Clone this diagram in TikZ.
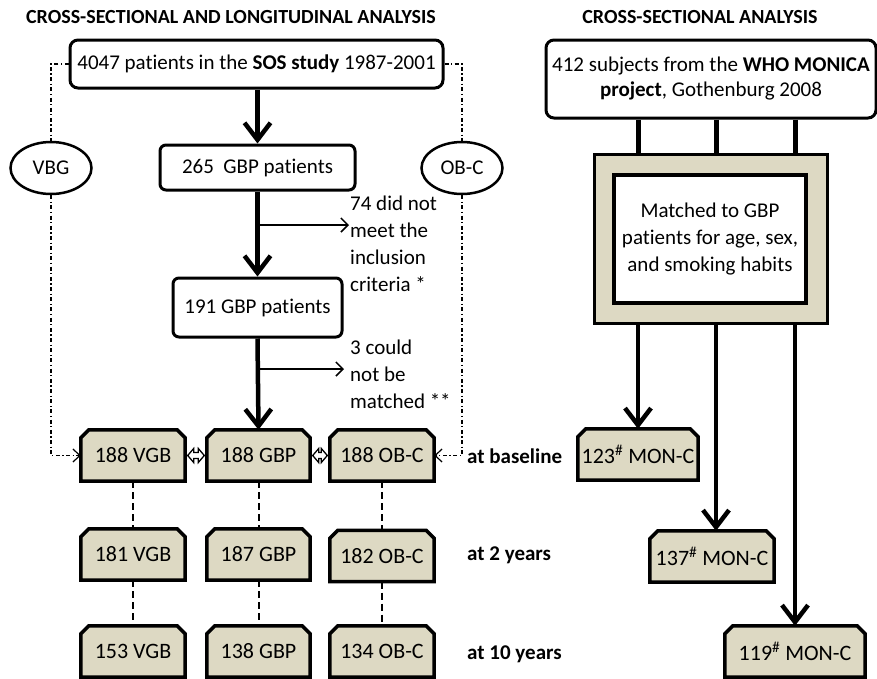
\documentclass[tikz,border=0pt]{standalone}
\usepackage{fontspec}
\setmainfont{Carlito}[Ligatures=NoCommon]
\usetikzlibrary{arrows.meta,calc,backgrounds,shapes.geometric}
\definecolor{beige}{RGB}{221,217,195}
\begin{document}
\begin{tikzpicture}[x=1pt,y=-1pt,
  font=\fontsize{21}{27}\selectfont,
  rbox/.style={draw, line width=3pt, rounded corners=8pt, fill=white, inner sep=0pt, align=center},
  oval/.style={draw, ellipse, line width=2.5pt, fill=white, inner sep=0pt, minimum width=81, minimum height=52},
  bigarrow/.style={line width=4.5pt, -{Straight Barb[length=17pt,width=26pt]}},
  thinarrow/.style={line width=1.5pt, -{Straight Barb[length=7pt,width=14pt]}},
  conn/.style={line width=5pt},
  dline/.style={line width=2pt, dash pattern=on 7pt off 4pt},
  ddot/.style={line width=1.2pt, black, dash pattern=on 4pt off 2.5pt on 1.2pt off 2.5pt},
  ddarrow/.style={ddot, -{Straight Barb[length=7pt,width=13pt]}},
  dbl/.style={line width=1.3pt, fill=white, line join=miter},
  lbl/.style={font=\fontsize{21}{27}\selectfont\bfseries, anchor=west, inner sep=0pt},
  ttl/.style={font=\fontsize{20}{27}\selectfont\bfseries, inner sep=0pt},
  note/.style={anchor=north west, align=left, inner sep=0pt}
]
\useasboundingbox (0,0) rectangle (877,678);

\newcommand\chbox[5]{%
  \node[inner sep=0pt, minimum width=#4, minimum height=51, font=\fontsize{22}{27}\selectfont] (#1) at (#2,#3) {#5};
  \begin{scope}[on background layer]
    \path[fill=beige, draw, line width=3.5pt, line join=miter]
      (#1.south west) -- ($(#1.north west)+(0,8)$) -- ($(#1.north west)+(8,0)$)
      -- ($(#1.north east)+(-8,0)$) -- ($(#1.north east)+(0,8)$) -- (#1.south east) -- cycle;
  \end{scope}}
\newcommand\dblarrow[2]{%
  \draw[dbl] let \p1=(#1.east), \p2=(#2.west) in
    (\x1+2.5pt,\y1) -- (\x1+8.5pt,\y1+7pt) -- (\x1+8.5pt,\y1+3pt) -- (\x2-8.5pt,\y1+3pt)
    -- (\x2-8.5pt,\y1+7pt) -- (\x2-2.5pt,\y1) -- (\x2-8.5pt,\y1-7pt) -- (\x2-8.5pt,\y1-3pt)
    -- (\x1+8.5pt,\y1-3pt) -- (\x1+8.5pt,\y1-7pt) -- cycle;}

% titles
\node[ttl] (t1) at (231,17) {CROSS-SECTIONAL AND LONGITUDINAL ANALYSIS};
\node[ttl] (t2) at (700,17) {CROSS-SECTIONAL ANALYSIS};

% left flow
\node[rbox, minimum width=373, minimum height=48] (sos) at (256.5,64) {4047 patients in the \textbf{SOS study} 1987-2001};
\node[rbox, rounded corners=6pt, minimum width=195, minimum height=45] (p265) at (257.5,167.5) {265\ \ GBP patients};
\node[rbox, rounded corners=6pt, minimum width=169, minimum height=59] (p191) at (257.5,307.5) {191 GBP patients};

\node[oval] (vbg) at (51,168) {VBG};
\node[oval] (obc) at (462,168) {OB-C};

\node[note] (n74) at (350,196) {74 did not\\meet the\\inclusion\\criteria *};
\node[note] (n3) at (350,340) {3 could\\not be\\matched **};

% beige boxes
\chbox{vgbA}{133}{455.5}{104}{188 VGB}
\chbox{gbpA}{258.5}{455.5}{103}{188 GBP}
\chbox{obcA}{382}{455.5}{104}{188 OB-C}
\chbox{vgbB}{133}{554.5}{104}{181 VGB}
\chbox{gbpB}{258.5}{554.5}{103}{187 GBP}
\chbox{obcB}{382}{556}{104}{182 OB-C}
\chbox{vgbC}{133}{651.5}{104}{153 VGB}
\chbox{gbpC}{258.5}{651.5}{103}{138 GBP}
\chbox{obcC}{382}{651.5}{104}{134 OB-C}

\node[lbl] (l1) at (467,456) {at baseline};
\node[lbl] (l2) at (467,555) {at 2 years};
\node[lbl] (l3) at (467,654) {at 10 years};

% main arrows
\draw[bigarrow] (sos.south -| p265.north) -- (p265.north);
\draw[bigarrow] (p265.south) -- (p191.north);
\draw[bigarrow] (p191.south) -- (gbpA.north);
\coordinate (b1) at (257.5,225);
\coordinate (b1e) at (349,225);
\draw[thinarrow] (b1) -- (b1e);
\coordinate (b2) at (257.5,369);
\coordinate (b2e) at (344,369);
\draw[thinarrow] (b2) -- (b2e);

% double arrows
\dblarrow{vgbA}{gbpA}
\dblarrow{gbpA}{obcA}

% dashed verticals
\draw[dline] (vgbA.south) -- (vgbB.north);
\draw[dline] (vgbB.south) -- (vgbC.north);
\draw[dline] (gbpA.south) -- (gbpB.north);
\draw[dline] (gbpB.south) -- (gbpC.north);
\draw[dline] (obcA.south) -- (obcB.north);
\draw[dline] (obcB.south) -- (obcC.north);

% dash-dot connectors
\draw[ddot] (sos.west) -| (vbg.north);
\draw[ddarrow] (vbg.south) |- (vgbA.west);
\draw[ddot] (sos.east) -| (obc.north);
\draw[ddarrow] (obc.south) |- (obcA.east);

% right flow
\node[rbox, minimum width=330, minimum height=78, font=\fontsize{21}{25}\selectfont] (who) at (711,79) {412 subjects from the \textbf{WHO MONICA}\\\textbf{project}, Gothenburg 2008};
\node[draw, line width=3pt, fill=beige, minimum width=233, minimum height=169, inner sep=0pt] (frame) at (710.5,238.5) {};
\node[draw, line width=3.5pt, fill=white, minimum width=192, minimum height=128, inner sep=0pt, align=center] (match) at (710,239) {Matched to GBP\\patients for age, sex,\\and smoking habits};

\chbox{monA}{638}{454.5}{120}{123\textsuperscript{\#} MON-C}
\chbox{monB}{712}{556.5}{124}{137\textsuperscript{\#} MON-C}
\chbox{monC}{795}{651.5}{140}{119\textsuperscript{\#} MON-C}

\coordinate (m1) at (638,0);
\coordinate (m2) at (716,0);
\coordinate (m3) at (795,0);
\draw[conn] (who.south -| m1) -- (frame.north -| m1);
\draw[conn] (who.south -| m2) -- (frame.north -| m2);
\draw[conn] (who.south -| m3) -- (frame.north -| m3);
\draw[bigarrow] (frame.south -| m1) -- (monA.north -| m1);
\draw[bigarrow] (frame.south -| m2) -- (monB.north -| m2);
\draw[bigarrow] (frame.south -| m3) -- (monC.north -| m3);
\end{tikzpicture}
\end{document}
